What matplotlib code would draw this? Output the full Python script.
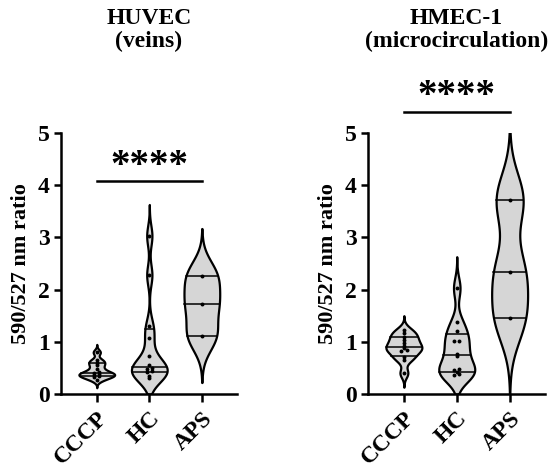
import numpy as np
import matplotlib
matplotlib.use("Agg")
import matplotlib.pyplot as plt

plt.rcParams['font.family'] = ['Liberation Serif', 'DejaVu Serif']
plt.rcParams['font.weight'] = 'bold'

groups = ['CCCP', 'HC', 'APS']

# HUVEC (veins)
huvec_cccp = [0.27, 0.32, 0.34, 0.36, 0.38, 0.40, 0.42, 0.48, 0.55, 0.60, 0.65, 0.80]
huvec_hc = [0.30, 0.35, 0.42, 0.45, 0.47, 0.50, 0.55, 0.73, 1.07, 1.30, 2.28, 3.03]
huvec_aps = [1.12, 1.73, 2.27]

# HMEC-1 (microcirculation)
hmec_cccp = [0.40, 0.66, 0.71, 0.82, 0.84, 0.88, 0.92, 0.98, 1.04, 1.10, 1.16, 1.23]
hmec_hc = [0.36, 0.38, 0.42, 0.46, 0.47, 0.73, 0.77, 1.01, 1.02, 1.20, 1.37, 2.03]
hmec_aps = [1.45, 2.33, 3.72]

# kde bandwidths per violin
huvec_bw = [0.05, 0.2, 0.30]
hmec_bw = [0.09, 0.20, 0.50]

FILL = '#d6d6d6'
HALF_W = 0.34
CUT = 3.0


def kde(data, bw, y):
    d = np.asarray(data)[:, None]
    z = (y[None, :] - d) / bw
    return np.exp(-0.5 * z ** 2).sum(axis=0) / (len(data) * bw * np.sqrt(2 * np.pi))


def draw_violin(ax, pos, data, bw):
    data = np.asarray(data, dtype=float)
    lo = max(0.0, data.min() - CUT * bw)
    hi = data.max() + CUT * bw
    y = np.linspace(lo, hi, 600)
    dens = kde(data, bw, y)
    w = dens / dens.max() * HALF_W
    ax.fill_betweenx(y, pos - w, pos + w, facecolor=FILL, edgecolor='black',
                     linewidth=1.6, zorder=2)
    qs = np.percentile(data, [25, 50, 75], method='weibull')
    for q in qs:
        wq = kde(data, bw, np.array([q]))[0] / dens.max() * HALF_W
        ax.plot([pos - wq, pos + wq], [q, q], color='black', lw=1.1, zorder=3)
    # spread tied points a little
    xs = np.full(len(data), float(pos))
    order = np.argsort(data)
    i = 0
    while i < len(order):
        j = i
        while j + 1 < len(order) and data[order[j + 1]] - data[order[i]] < 0.035:
            j += 1
        k = j - i + 1
        if k > 1:
            offs = (np.arange(k) - (k - 1) / 2) * 0.1
            xs[order[i:j + 1]] = pos + offs
        i = j + 1
    ax.scatter(xs, data, s=8, color='black', zorder=4, linewidths=0)


def style_axes(ax):
    ax.set_xlim(-0.68, 2.67)
    ax.set_ylim(0, 5)
    ax.set_yticks([0, 1, 2, 3, 4, 5])
    ax.set_xticks(range(3))
    ax.set_xticklabels(groups, rotation=45, ha='right', va='top',
                       rotation_mode='anchor', fontsize=17, fontweight='bold')
    for lab in ax.get_yticklabels():
        lab.set_fontsize(17)
        lab.set_fontweight('bold')
    for s in ['top', 'right']:
        ax.spines[s].set_visible(False)
    for s in ['left', 'bottom']:
        ax.spines[s].set_linewidth(1.8)
    ax.tick_params(axis='y', length=5, width=1.8, pad=3)
    ax.tick_params(axis='x', length=6, width=1.8, pad=4)
    ax.set_ylabel('590/527 nm ratio', fontsize=16, fontweight='bold', labelpad=5)


fig = plt.figure(figsize=(5.5, 4.7), dpi=100)
ax1 = fig.add_axes([0.111, 0.1617, 0.32, 0.5553])
ax2 = fig.add_axes([0.669, 0.1617, 0.322, 0.5553])

for ax, sets, bws in [(ax1, [huvec_cccp, huvec_hc, huvec_aps], huvec_bw),
                      (ax2, [hmec_cccp, hmec_hc, hmec_aps], hmec_bw)]:
    for i, (d, bw) in enumerate(zip(sets, bws)):
        draw_violin(ax, i, d, bw)
    style_axes(ax)

# significance bars
ax1.plot([0, 2], [4.08, 4.08], color='black', lw=1.8, clip_on=False)
ax1.text(1, 4.36, '****', ha='center', va='center', fontsize=28, fontweight='bold')
ax2.plot([0, 2], [5.41, 5.41], color='black', lw=1.8, clip_on=False)
ax2.text(1, 5.69, '****', ha='center', va='center', fontsize=28, fontweight='bold',
         clip_on=False)

fig.text(0.271, 0.984, 'HUVEC\n(veins)', ha='center', va='top', fontsize=17,
         fontweight='bold', linespacing=1.12)
fig.text(0.830, 0.984, 'HMEC-1\n(microcirculation)', ha='center', va='top',
         fontsize=17, fontweight='bold', linespacing=1.12)

fig.savefig('out.png', dpi=100)
